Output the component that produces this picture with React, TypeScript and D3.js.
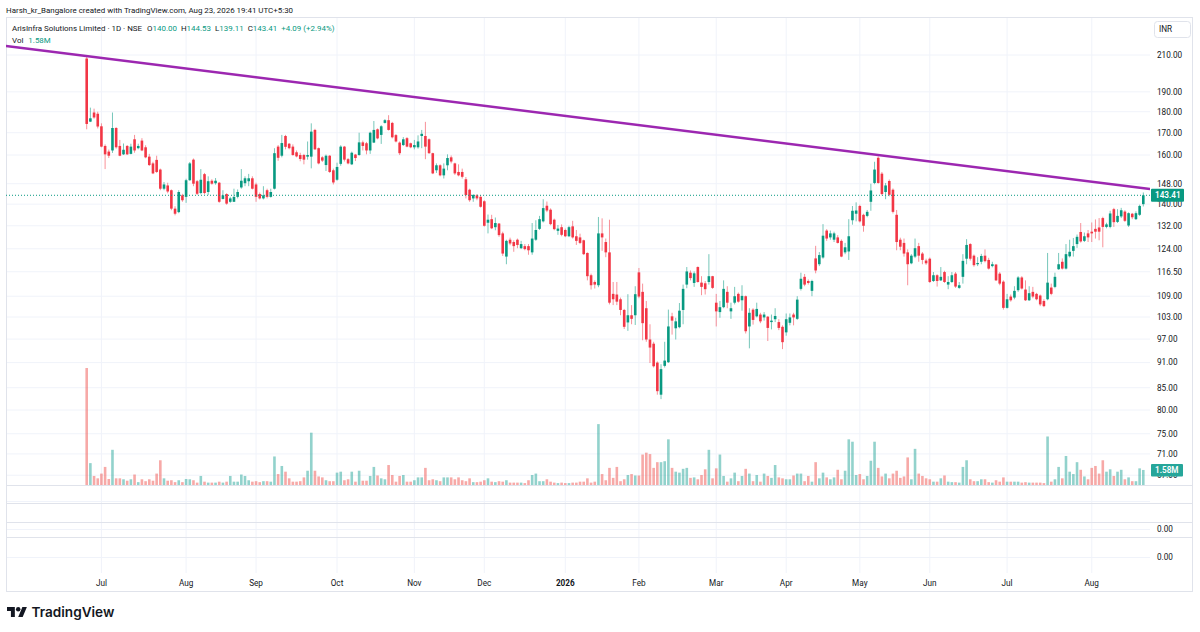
import React from "react";
import * as d3 from "d3";

const open = [208,175.2,179.6,179,173,164,161.5,162,172.2,164,160.3,164,160.5,167,163,166.4,163.4,159.3,156.4,157.9,153.8,146,147.3,145.4,138.3,137,143.4,142.8,149.4,158,149,144.3,151.9,144.7,149.2,148.2,148.4,142,143.9,140.9,140.9,142.8,146.5,148.2,149,150.2,147.7,143.9,142.2,145.4,142.8,146,163.7,159.7,168.5,165,163.7,161.2,160,160,159.3,159.3,171.3,163,159,155.7,159.7,153.5,149.6,156.2,163.7,158.2,156,160.2,160,165.6,165.2,162,165.5,171.6,169,174.6,175.9,174.6,168.9,165.5,164.4,167.5,165.2,163.4,163.4,168.5,168.5,167,160.8,153.5,155.6,151.4,155.6,159,156.4,152.8,152.8,149.8,145.6,142.2,143.4,142.8,141.1,133.1,134.4,131.5,132.8,129.3,121.4,127.1,126.3,127.1,124.2,124.9,124.9,122.8,127.1,130.9,133.6,139.4,137.9,134.2,130.2,131.5,130.5,128.3,131.8,128.3,127.9,126.9,122.6,115.4,113.3,112.3,129.3,126.3,122.8,109.7,109.5,108.1,105,101.5,103.5,103.5,116.3,110.3,105.5,96.9,95.8,91,83.4,90.2,91.1,103.2,99.9,100.2,105,112.5,116.2,113,118,113.1,112.9,113.3,115.1,107.1,104.4,105.8,110.3,104.6,107.1,109.7,107.8,109,100.4,105.1,103.2,103.7,102.9,103.1,101.6,102.4,101.6,100.3,98.8,101.4,103.7,102.5,111.2,114.9,113.6,110.6,120.8,118.9,121.1,130.3,127.9,127.1,127.9,126.7,122.8,123.1,134,136.4,139.3,136,135.6,140.9,148.3,158.8,152.1,144.7,149.1,145.6,136,127.1,126,122.8,119.2,121.4,124.9,122.4,120.1,120.7,113.6,115.4,113.8,116.4,112.5,113.3,115.9,111.5,114.9,120.7,125.6,121.7,118.9,119.7,121.7,120.3,118.3,118.8,115.9,113.4,105.6,108.9,108.6,110.8,114.7,111,107.8,110.3,109.7,109.2,107.6,108.1,111.6,111.8,117.3,119.7,117.5,121.5,123.3,125.6,129.8,126.7,129.3,129.9,130.9,131.4,134.8,131.6,131.6,138.1,133.4,135.4,137.2,132.1,136.4,134.4,136,140];
const high = [209.4,182,181.5,180,174.4,164.7,162.4,179.6,172.6,166.7,165.1,164.4,165,169,165,167.5,164.3,160.5,157.1,159.7,154.2,148.7,148.4,145.7,139.2,145.4,144,150,157,158.5,149.5,154,152.4,151,149.8,150.3,148.7,145.4,144.2,142.8,146,145.7,154,151,152,151,148.4,144.5,147,146,146,163,164.4,169,169,165.3,164.7,162,161,160.5,166,174.4,171.8,163.3,159.5,160.2,160,154.2,156.7,164.3,164,158.7,161.5,160.5,170,166.4,165.8,170.5,175.5,172,173.5,176.4,178.3,175.1,169.4,166,168,168,165.5,166.7,168.8,171.3,175.1,167.4,161,156.4,156,156.4,160.3,159.8,156.7,156,154.2,150.7,146,143.9,143.9,143.5,141.5,136.1,136,135,133,129.9,127.1,127.8,126.9,127.5,126.7,125.6,125.6,133,134,135.6,141.9,141,138.4,134.6,132.3,132.5,131,132,133.8,130.5,129.2,127.1,122.8,115.9,113.8,135.2,134.7,127.5,134.2,113.3,113.3,108.6,105.3,109.6,106.4,112,117.7,112.8,107.6,101,96.3,91.3,90.6,96.3,105.1,104.2,102.8,107,112.5,118,116.9,116.6,118.2,115.1,113.6,122.2,115.2,109.7,107.6,113.8,112,107.1,111.8,110.1,112.3,109.2,105.5,105.5,107.1,104.2,104.4,103.3,103.7,105.5,102.4,100.7,104,104,104.2,109,116.2,115.8,114.1,114,125,122.9,132.6,130.8,130.3,129.9,128.7,127.2,126,134.4,139.3,140.7,139.8,136.4,137.8,148,157.1,159.4,152.8,148.3,149.7,146.1,137.8,127.8,127.5,123.8,122.2,127.5,126,122.9,120.7,121.1,116.4,115.7,118,116.8,115.1,116.4,116.4,113.3,122.2,127.3,125.9,122.1,121.2,122.3,123.8,121,119.7,119,116.4,113.8,109.7,109.5,112,115.1,115.1,113.8,112,111.8,110,109.5,108.1,122.6,112.8,116.2,122.6,120.8,125.6,127.1,127.7,128.9,133,129.6,130.5,133.2,134.3,134.8,135.3,133.1,137.5,138.6,138.1,138.6,137.7,136.9,136.7,137.3,139.8,144.53];
const low = [171.6,175,176.6,172,163.4,154,158.7,160.9,162.8,159.5,160,160,160.3,161,162.5,161.7,158.6,155.3,151.9,152.4,145.4,145.4,144.2,137.7,135.8,136.6,140.9,140.5,149.2,147,143.5,143.8,143.8,143.5,147.6,147.6,140.5,141.8,139.8,140.5,140.9,142.2,146,147,147,145.7,140.9,141.8,141.8,142.2,142.5,145.7,157.5,159,162.5,162.5,159.7,159,157.3,156,158,154.3,162.2,156,157,153.2,152.4,147.7,149.2,155.4,157.2,156,155.7,157.4,159.7,162,160.3,160.5,165.3,167,164.9,174.3,171,167.4,165.6,160,164,163.4,163,162.5,162.8,163,158.2,160.5,151.9,152.4,151,150.1,153.5,156.4,151.6,151,150.1,142.2,140.9,140.9,141.5,138.7,131.7,129.3,130.8,130.4,128.1,121.6,118.9,125.2,123,124.2,123.9,123.5,122,122,126.7,130.5,133.2,137,132.2,130.4,128.8,128.3,128,128,127.5,125.3,125.6,121.9,113.8,111,111.3,111.7,123.3,121.2,106.6,106.4,106.4,103.5,99.7,99.2,101,100.8,108.4,96.7,96.3,90.9,89.8,83.4,82.4,89.8,90.9,98.2,96.9,99.9,101,111.4,113.8,111.8,113.1,109.3,109.5,112.5,111.2,100.4,102.8,105.5,105.5,102.5,106.6,107.1,104.8,98.5,94.6,100.9,102.9,101.3,102,96.5,99.6,101.6,99.4,94.4,97.9,100.7,100.7,102.2,110.7,112,112.5,109,116,118.3,120.7,126.7,127.1,126.3,125.8,121.2,122.2,120.3,132.4,133.6,133.2,129.9,135.1,137.5,147.8,148,143.4,141.9,143,136.5,123.5,123.5,121.4,112.3,118.9,120.9,119.7,118.9,118.7,113,113.3,111.9,113.6,113,111.1,113,111.5,111.2,112.8,118.9,120.1,118.1,118.3,118.9,119.5,117.2,117.9,113.6,112.3,105.1,105.4,107.4,108.1,110.3,111,107.6,107.6,108.4,107.8,106.1,105.8,107.8,109.3,111.4,117.1,117.2,117.2,121.1,121.4,124.3,126.1,126.3,126.3,126.3,127.5,126.9,124.5,131.1,131.1,131.6,133,134.8,133.4,131.6,134.4,134.1,135.6,139.11];
const close = [174.1,176.8,177.2,172.9,163.7,160.3,159.7,172.2,163.4,159.7,162.3,160.3,163.7,162,164,162,159,155.7,152.2,152.8,146,147.7,144.9,138.3,136.4,144.7,141.5,149.4,156.4,148,144,149.6,144.3,149,148,149.2,140.9,143.4,140.2,142.2,142.8,144.7,149.2,150.2,150.2,146,142.8,142.2,143.4,142.8,144.7,160.8,158.8,165.3,163.6,163,160,159.4,158.3,158,160,170.5,162.5,156.4,157.6,159.7,152.8,148.5,154.9,163.7,158,156.4,161,158.7,165.6,164,162,170,171.3,167.4,173,175.9,171.3,167.9,166,160.8,167,163.7,163.4,164.4,166,169.5,163.7,160.8,152.2,155.6,151.4,154.2,158.7,157.2,152.2,151.4,150.8,143.5,141.5,143.5,142.2,139,132,134.2,131.1,133,128.7,122.4,126.7,125.8,124.9,125.3,125.6,123.9,123.5,127.5,130.5,134.4,138.5,137.6,132.6,130.8,131,128.8,128.3,131.5,127.9,126.7,126,122.2,115.1,112.3,112.5,129.3,127.9,122.8,107.1,108.1,107.4,105,100.3,103.5,102.5,109.6,108.9,101.3,96.9,94.8,90.1,84.2,89.4,91.5,100.4,102,101.8,104.8,111.2,116.6,114.5,116,113.3,111.8,111.1,115.1,111.5,104.6,105.8,111.2,107.1,105.5,109,107.4,109.1,99.1,104.2,102.2,105.3,101.8,103.7,100,102,103.3,100,96.2,102.4,102.9,102.9,108,114.3,112.5,113,113.6,116.9,121.9,128.5,127.5,129.3,129.3,126,121.4,124.5,128.3,137.5,137.6,133.6,132,137.1,145.3,153.8,148.3,143.9,147.3,143.6,137.1,126.3,124.7,122.4,118.9,121.7,124.2,121.7,120.3,119.2,113.3,115.4,113.6,114.9,113.3,113.3,115.4,111.9,112.3,120,125.3,120.7,118.6,119.3,121.6,119.9,117.5,118.9,113.8,112.8,105.6,108.1,107.8,110.6,114.7,111.3,107.8,109.9,108.9,108.1,106.6,106.1,113.1,109.7,114.9,118.9,117.5,122.2,123,124.9,128.1,126.5,128.3,127.9,129.3,129.9,129.9,131.6,132.5,136.5,133.3,135.6,137.7,133.8,136.6,135.1,136.6,139.32,143.41];
const volume = [12.3,2.3,0.95,0.7,1.2,1.9,0.63,3.7,0.7,0.7,0.6,0.45,0.6,1.1,0.3,0.6,0.4,0.6,0.45,1.2,2.6,0.7,0.45,0.5,0.3,0.5,0.3,0.63,0.6,0.5,0.25,0.95,0.35,0.25,0.25,0.25,0.35,0.25,0.35,0.95,0.35,0.35,1.1,0.95,0.5,0.35,0.4,0.3,0.4,0.4,0.35,3.0,1.15,2.0,1.4,0.7,0.35,0.35,0.4,0.8,1.5,5.5,1.5,0.9,0.8,0.5,0.4,0.4,1.3,1.4,0.5,0.6,1.4,0.35,1.5,0.45,0.45,0.95,1.9,1.0,0.7,0.6,2.1,1.05,0.35,0.95,1.05,0.35,0.35,0.5,0.8,0.8,1.8,0.5,0.6,0.5,0.4,0.8,0.8,0.8,0.6,0.8,0.5,0.4,0.7,0.3,0.3,0.35,0.5,0.7,0.35,0.3,0.4,0.35,0.5,0.25,0.25,0.25,0.25,0.2,0.5,1.05,1.2,0.4,0.4,0.6,0.35,0.25,0.2,0.25,0.2,0.2,0.25,0.25,0.35,0.35,0.7,0.25,0.35,6.4,1.15,0.5,1.8,0.75,1.9,0.4,0.6,1.05,1.15,1.0,1.0,3.2,3.4,3.25,1.8,2.4,2.4,2.5,4.8,1.8,1.4,1.3,1.7,1.8,0.75,0.8,0.6,1.05,1.65,3.7,0.7,1.75,3.2,0.95,0.35,0.7,1.3,0.4,0.95,1.7,1.2,0.4,1.05,0.35,1.2,0.95,0.75,2.1,0.8,0.7,0.6,0.6,1.0,1.2,1.2,0.4,0.95,0.35,2.4,0.7,1.3,0.8,0.6,0.8,1.6,0.6,1.5,4.8,4.55,1.05,1.15,0.6,0.95,2.55,4.55,1.8,0.9,1.2,0.7,1.2,1.5,0.75,0.9,2.9,0.6,3.8,1.2,0.95,0.7,0.6,0.35,0.35,0.7,1.0,0.35,0.3,0.3,0.25,1.9,2.6,0.6,0.4,0.4,0.6,0.6,0.3,0.25,0.5,0.35,0.8,0.35,0.35,0.35,0.35,0.25,0.3,0.25,0.25,0.25,0.25,0.2,5.1,0.35,0.6,1.9,0.7,3.05,1.4,1.15,2.4,1.6,0.9,0.6,1.8,2.0,1.2,2.6,1.4,1.65,0.95,1.4,1.6,0.6,0.8,0.4,0.4,1.75,1.58];

const priceTicks = [210, 190, 180, 170, 160, 148, 140, 132, 124, 116.5, 109, 103, 97, 91, 85, 80, 75, 71, 67];
const monthLabels = ["Jul", "Aug", "Sep", "Oct", "Nov", "Dec", "2026", "Feb", "Mar", "Apr", "May", "Jun", "Jul", "Aug"];
const monthIdx = [4, 27, 46, 68, 89, 108, 130, 150, 171, 190, 210, 229, 250, 273];
const trendIdx = [0, 215];
const trendPrice = [209.4, 160];

const UP = "#089981";
const DOWN = "#f23645";
const VOL_UP = "rgba(38,166,154,0.5)";
const VOL_DOWN = "rgba(239,83,80,0.5)";
const GRID = "#f0f3fa";
const BORDER = "#e0e3eb";
const TXT = "#131722";
const FONT = "Roboto, 'Noto Sans', sans-serif";
const AX = 8.2;
const LG = 7.95;

export default function App() {
  const W = 1200, H = 632;
  const left = 6, right = 1193, paneR = 1150, top = 18, mainB = 485;
  const n = open.length;
  const x = d3.scaleLinear().domain([0, n - 1]).range([86.7, 1143.3]);
  const y = d3.scaleLog().domain([80, 210]).range([410, 55]);
  const v = d3.scaleLinear().domain([0, 12.3]).range([mainB, 368]);
  const bw = 2.6;

  const tx0 = x(trendIdx[0]), ty0 = y(trendPrice[0]);
  const tx1 = x(trendIdx[1]), ty1 = y(trendPrice[1]);
  const slope = (ty1 - ty0) / (tx1 - tx0);
  const trendA = [left, ty0 + (left - tx0) * slope];
  const trendB = [paneR, ty0 + (paneR - tx0) * slope];

  const last = close[n - 1];
  const lastY = y(last);
  const lastVol = volume[n - 1];
  const lastVolY = v(lastVol);
  const chg = last - close[n - 2];

  const logoPath = "M14 22H7V11H0V4h14v18zM28 22h-8l7.5-18h8L28 22z";

  return (
    <div style={{ position: "absolute", left: 0, top: 0, width: W, height: H, background: "#fff" }}>
      <svg width={W} height={H} viewBox={`0 0 ${W} ${H}`} style={{ display: "block", fontFamily: FONT }}>
        <rect x={0} y={0} width={W} height={H} fill="#ffffff" />
        <defs>
          <clipPath id="mainClip">
            <rect x={left} y={top} width={paneR - left} height={mainB - top} />
          </clipPath>
        </defs>

        {/* header */}
        <text x={6} y={12.5} fontSize={LG} fill={TXT}>
          Harsh_kr_Bangalore created with TradingView.com, Aug 23, 2026 19:41 UTC+5:30
        </text>

        {/* horizontal grid main pane */}
        {priceTicks.map((t) => (
          <line key={"hg" + t} x1={left} x2={paneR} y1={y(t)} y2={y(t)} stroke={GRID} strokeWidth={1} />
        ))}
        {/* vertical grid */}
        {monthIdx.map((m, i) => (
          <line key={"vg" + i} x1={x(m)} x2={x(m)} y1={top} y2={573} stroke={GRID} strokeWidth={1} />
        ))}
        {/* lower pane gridlines */}
        <line x1={left} x2={paneR} y1={501.5} y2={501.5} stroke={GRID} />
        <line x1={left} x2={paneR} y1={529.5} y2={529.5} stroke={GRID} />
        <line x1={left} x2={paneR} y1={557.5} y2={557.5} stroke={GRID} />

        {/* pane borders */}
        {[485.5, 503.5, 522.5, 537.5].map((b) => (
          <line key={"pb" + b} x1={left} x2={right} y1={b} y2={b} stroke={BORDER} strokeWidth={1} />
        ))}
        <rect x={left + 0.5} y={top - 0.5} width={right - left - 1} height={592 - top} fill="none" stroke={BORDER} strokeWidth={1} />

        <g clipPath="url(#mainClip)">
          {/* volume */}
          {volume.map((vol, i) => (
            <rect
              key={"v" + i}
              x={x(i) - bw / 2}
              y={v(vol)}
              width={bw}
              height={mainB - v(vol)}
              fill={close[i] >= open[i] ? VOL_UP : VOL_DOWN}
            />
          ))}
          {/* candles */}
          {open.map((o, i) => {
            const c = close[i];
            const col = c >= o ? UP : DOWN;
            const yt = y(Math.max(o, c));
            const yb = y(Math.min(o, c));
            return (
              <g key={"c" + i}>
                <line x1={x(i)} x2={x(i)} y1={y(high[i])} y2={y(low[i])} stroke={col} strokeWidth={1} strokeOpacity={0.55} />
                <rect x={x(i) - bw / 2} y={yt} width={bw} height={Math.max(1, yb - yt)} fill={col} />
              </g>
            );
          })}
          {/* last price dotted line */}
          <line x1={left} x2={paneR} y1={lastY} y2={lastY} stroke={UP} strokeWidth={1} strokeDasharray="1 2" />
          {/* trendline */}
          <line x1={trendA[0]} y1={trendA[1]} x2={trendB[0]} y2={trendB[1]} stroke="#9c27b0" strokeWidth={2.5} strokeLinecap="round" />
        </g>

        {/* legend */}
        <text x={12} y={30.5} fontSize={LG} fill={TXT}>
          <tspan>ArisInfra Solutions Limited · 1D · NSE</tspan>
          <tspan dx={5}>O</tspan>
          <tspan fill={UP}>{open[n - 1].toFixed(2)}</tspan>
          <tspan dx={4}>H</tspan>
          <tspan fill={UP}>{high[n - 1].toFixed(2)}</tspan>
          <tspan dx={4}>L</tspan>
          <tspan fill={UP}>{low[n - 1].toFixed(2)}</tspan>
          <tspan dx={4}>C</tspan>
          <tspan fill={UP}>{last.toFixed(2)}</tspan>
          <tspan dx={4} fill={UP}>{`+${chg.toFixed(2)} (+${((chg / close[n - 2]) * 100).toFixed(2)}%)`}</tspan>
        </text>
        <text x={12} y={43} fontSize={LG} fill={TXT}>
          <tspan>Vol</tspan>
          <tspan dx={5} fill={UP}>{lastVol.toFixed(2)}M</tspan>
        </text>

        {/* price axis */}
        <rect x={1154.5} y={21.5} width={36} height={16} rx={3} fill="#fff" stroke={BORDER} />
        <text x={1159} y={29.5} dy="0.35em" fontSize={AX} fill={TXT}>INR</text>
        {priceTicks.map((t) => (
          <text key={"pt" + t} x={1157} y={y(t)} dy="0.35em" fontSize={AX} fill={TXT}>
            {t.toFixed(2)}
          </text>
        ))}
        <text x={1157} y={529.5} dy="0.35em" fontSize={AX} fill={TXT}>0.00</text>
        <text x={1157} y={557.5} dy="0.35em" fontSize={AX} fill={TXT}>0.00</text>

        {/* last price label */}
        <rect x={1151} y={lastY - 6.5} width={33} height={13} rx={1} fill={UP} />
        <text x={1155} y={lastY + 0.3} dy="0.35em" fontSize={AX} fontWeight={600} fill="#fff">{last.toFixed(2)}</text>
        {/* volume label */}
        <rect x={1151} y={lastVolY - 6} width={32} height={12.5} rx={1} fill="#26a69a" />
        <text x={1155} y={lastVolY + 0.3} dy="0.35em" fontSize={AX} fontWeight={600} fill="#fff">{lastVol.toFixed(2)}M</text>

        {/* time axis */}
        {monthLabels.map((m, i) => (
          <text
            key={"ml" + i}
            x={x(monthIdx[i])}
            y={583}
            dy="0.35em"
            textAnchor="middle"
            fontSize={AX}
            fontWeight={m === "2026" ? 700 : 400}
            fill={TXT}
          >
            {m}
          </text>
        ))}

        {/* TradingView logo */}
        <g transform="translate(7,604.8) scale(0.56)" fill="#131722">
          <path d={logoPath} />
          <circle cx={20} cy={8} r={4} />
        </g>
        <text x={31.5} y={617} fontSize={13.6} fontWeight={600} fill="#131722" fontFamily="Inter, Roboto, sans-serif">
          TradingView
        </text>
      </svg>
    </div>
  );
}
